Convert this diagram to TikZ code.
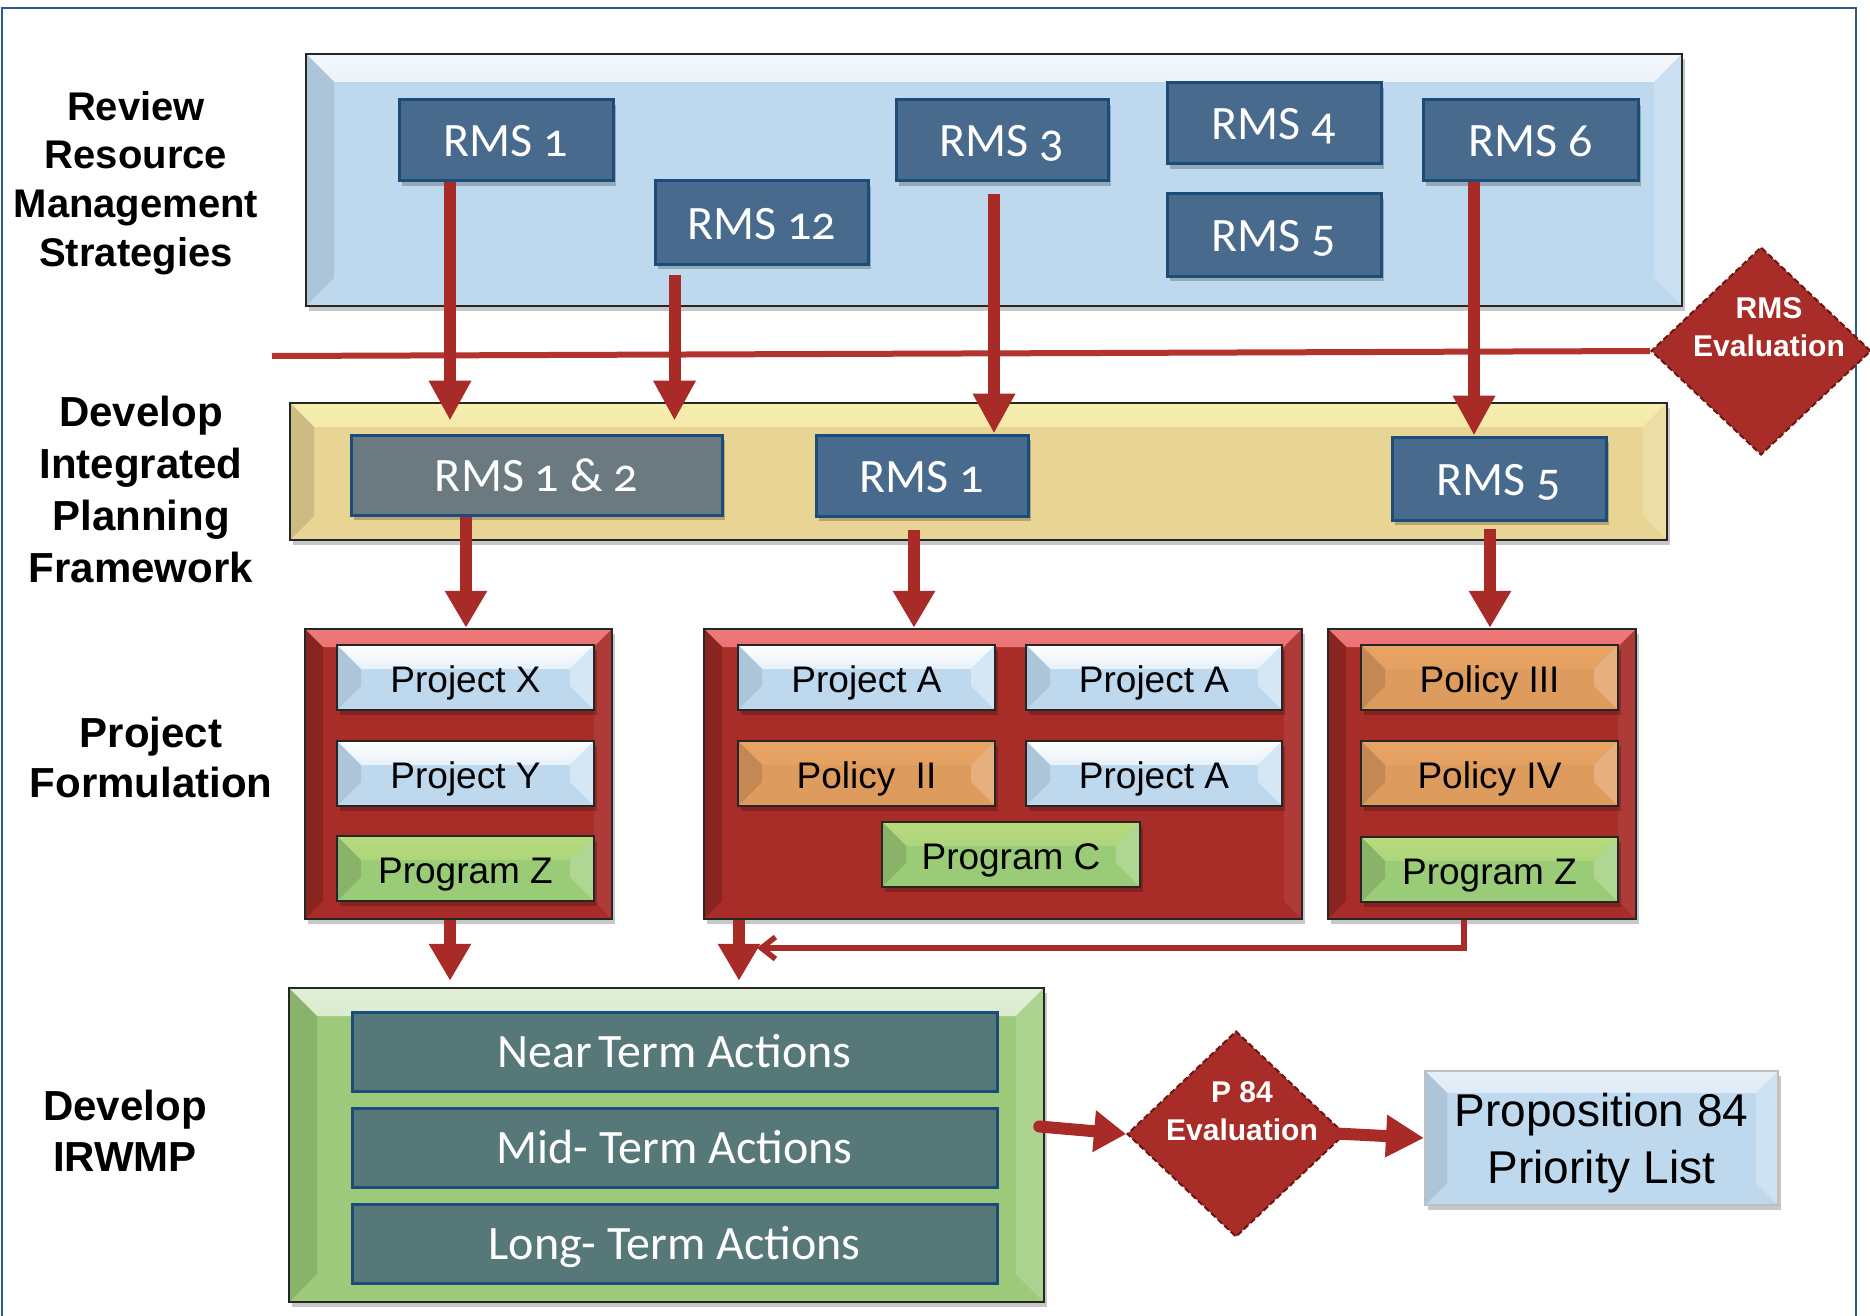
\documentclass[tikz,border=0pt]{standalone}
\usepackage{fontspec}
\setmainfont{Liberation Sans}
\newfontfamily\calfont[Numbers=OldStyle]{Carlito}
\usetikzlibrary{arrows.meta,shapes.geometric,shadows}

\definecolor{framecol}{HTML}{2E5C8A}
\definecolor{arrowred}{HTML}{A82B27}
\definecolor{linered}{HTML}{B3332E}
\definecolor{dkred}{HTML}{6E1512}
\definecolor{rmsfill}{HTML}{486A8D}
\definecolor{rmsedge}{HTML}{1C4D7A}
\definecolor{rmsgray}{HTML}{6A7A80}
\definecolor{actfill}{HTML}{577878}
\definecolor{panelblue}{HTML}{BED9ED}
\definecolor{panelyel}{HTML}{E8D594}
\definecolor{panelred}{HTML}{A82C28}
\definecolor{panelgrn}{HTML}{9CCA7A}
\definecolor{projblue}{HTML}{BED8EE}
\definecolor{polorange}{HTML}{DE9B5E}
\definecolor{proggreen}{HTML}{9ACB76}

\tikzset{
  bevel/.style n args={5}{fill=#2, path picture={
    \path[#3] (path picture bounding box.north west) -- (path picture bounding box.north east)
      -- ([shift={(-#1pt,-#1pt)}]path picture bounding box.north east)
      -- ([shift={(#1pt,-#1pt)}]path picture bounding box.north west) -- cycle;
    \path[#4] (path picture bounding box.north west) -- ([shift={(#1pt,-#1pt)}]path picture bounding box.north west)
      -- ([shift={(#1pt,#1pt)}]path picture bounding box.south west) -- (path picture bounding box.south west) -- cycle;
    \path[#5] (path picture bounding box.north east) -- ([shift={(-#1pt,-#1pt)}]path picture bounding box.north east)
      -- ([shift={(-#1pt,#1pt)}]path picture bounding box.south east) -- (path picture bounding box.south east) -- cycle;
  }},
  shadowed/.style={drop shadow={shadow xshift=3pt,shadow yshift=-5pt,fill=black,opacity=0.22}},
  panel/.style={draw=black!85,line width=2.5pt,inner sep=0pt,shadowed},
  bluepanel/.style={panel,bevel={28}{panelblue}{top color=white!80!panelblue,bottom color=panelblue}{fill=panelblue!85!black!60!panelblue}{fill=white!18!panelblue}},
  yelpanel/.style={panel,bevel={24}{panelyel}{top color=white!75!yellow!60!panelyel,bottom color=panelyel}{fill=panelyel!88!black}{fill=white!18!panelyel}},
  redpanel/.style={panel,bevel={18}{panelred}{top color=red!45!white!80!panelred,bottom color=panelred}{fill=panelred!82!black}{fill=panelred!93!white}},
  grnpanel/.style={panel,bevel={28}{panelgrn}{top color=white!70!panelgrn,bottom color=panelgrn}{fill=panelgrn!88!black}{fill=white!15!panelgrn}},
  rmsbox/.style={draw=rmsedge,line width=3pt,fill=rmsfill,inner sep=0pt,shadowed,text=white,
    font=\calfont\fontsize{48}{52}\selectfont,text height=33pt,text depth=0pt},
  item/.style={draw=black!85,line width=2.5pt,inner sep=0pt,shadowed,text=black,
    font=\fontsize{37}{40}\selectfont,text height=30pt,text depth=0pt},
  projitem/.style={item,bevel={24}{projblue}{top color=white,bottom color=projblue}{fill=projblue!85!black!60!projblue}{fill=white!35!projblue}},
  politem/.style={item,bevel={24}{polorange}{top color=white!45!orange!30!polorange,bottom color=polorange}{fill=polorange!88!black}{fill=white!20!polorange}},
  progitem/.style={item,bevel={24}{proggreen}{top color=white!55!yellow!30!proggreen,bottom color=proggreen}{fill=proggreen!88!black}{fill=white!22!proggreen}},
  actbar/.style={draw=rmsedge,line width=3pt,fill=actfill,inner sep=0pt,text=white,
    font=\calfont\fontsize{48}{52}\selectfont,text height=32.5pt,text depth=0pt},
  propbox/.style={draw=black!25,line width=2pt,inner sep=0pt,shadowed,align=center,
    font=\fontsize{46}{57}\selectfont,text depth=0pt,
    bevel={22}{projblue}{top color=white!60!projblue,bottom color=projblue}{fill=projblue!85!black!60!projblue}{fill=white!25!projblue}},
  evaldiamond/.style={shape=diamond,inner sep=0pt,fill=panelred,draw=dkred,line width=2pt,
    dash pattern=on 6pt off 3pt},
  evaltext/.style={text=white,align=center,font=\bfseries\fontsize{30}{38}\selectfont,text depth=0pt,inner sep=0pt},
  sidelabel/.style={align=center,anchor=north,inner sep=0pt,text=black},
  bigarrow/.style={draw=arrowred,line width=12pt,-{Triangle[length=40pt,width=40pt]}},
  midarrow/.style={draw=arrowred,line width=12pt,-{Triangle[length=37pt,width=40pt]}},
  thinarrow/.style={draw=arrowred,line width=5.5pt,-{Straight Barb[length=14pt,width=22pt]}},
  evalline/.style={draw=linered,line width=6pt},
}

\newcommand\placebox[7]{%
  \pgfmathsetmacro\bxw{#4-#2}\pgfmathsetmacro\bxh{#5-#3}%
  \node[#6,minimum width=\bxw pt,minimum height=\bxh pt] (#1) at ({(#2+#4)/2},{(#3+#5)/2}) {#7};}

\begin{document}
\begin{tikzpicture}[x=1pt,y=-1pt]
\useasboundingbox[fill=white] (0,0) rectangle (1870,1316);
\draw[framecol,line width=2pt] (2,8) rectangle (1856,1330);

% side labels
\node[sidelabel,font=\bfseries\fontsize{40}{48.8}\selectfont] (lRev) at (136,91) {Review\\Resource\\Management\\Strategies};
\node[sidelabel,font=\bfseries\fontsize{42}{52}\selectfont] (lDev) at (141,396) {Develop\\Integrated\\Planning\\Framework};
\node[sidelabel,font=\bfseries\fontsize{42}{50}\selectfont] (lProj) at (151,717) {Project\\Formulation};
\node[sidelabel,font=\bfseries\fontsize{42}{51}\selectfont] (lIrw) at (125,1090) {Develop\\IRWMP};

% panels
\placebox{pTop}{306}{54}{1682}{306}{bluepanel}{}
\placebox{pMid}{290}{403}{1667}{540}{yelpanel}{}
\placebox{pRa}{305}{629}{612}{919}{redpanel}{}
\placebox{pRb}{704}{629}{1302}{919}{redpanel}{}
\placebox{pRc}{1328}{629}{1636}{919}{redpanel}{}
\placebox{pGrn}{289}{988}{1044}{1302}{grnpanel}{}

% RMS boxes
\placebox{rmsA}{399}{100}{613}{181}{rmsbox}{RMS 1}
\placebox{rmsB}{655}{181}{868}{264}{rmsbox}{RMS 12}
\placebox{rmsC}{896}{100}{1108}{181}{rmsbox}{RMS 3}
\placebox{rmsD}{1167}{83}{1381}{164}{rmsbox}{RMS 4}
\placebox{rmsE}{1167}{194}{1381}{276}{rmsbox}{RMS 5}
\placebox{rmsF}{1423}{100}{1638}{181}{rmsbox}{RMS 6}
\placebox{rmsG}{351}{435}{722}{515}{rmsbox,fill=rmsgray}{RMS 1 \& 2}
\placebox{rmsH}{816}{435}{1028}{516}{rmsbox}{RMS 1}
\placebox{rmsI}{1392}{437}{1606}{520}{rmsbox}{RMS 5}

% project items
\placebox{projX}{337}{645}{594}{710}{projitem}{Project X}
\placebox{projY}{337}{741}{594}{806}{projitem}{Project Y}
\placebox{progZa}{337}{836}{594}{901}{progitem}{Program Z}
\placebox{projAa}{738}{645}{995}{710}{projitem}{Project A}
\placebox{projAb}{1026}{645}{1282}{710}{projitem}{Project A}
\placebox{polII}{738}{741}{995}{806}{politem}{Policy\hspace{0.55em}II}
\placebox{projAc}{1026}{741}{1282}{806}{projitem}{Project A}
\placebox{progC}{882}{822}{1140}{887}{progitem}{Program C}
\placebox{polIII}{1361}{645}{1618}{710}{politem}{Policy III}
\placebox{polIV}{1361}{741}{1618}{806}{politem}{Policy IV}
\placebox{progZb}{1361}{837}{1618}{902}{progitem}{Program Z}

% action bars
\placebox{actN}{352}{1012}{997}{1091}{actbar}{Near\hspace{0.12em}Term Actions}
\placebox{actM}{352}{1108}{997}{1187}{actbar}{Mid- Term Actions}
\placebox{actL}{352}{1204}{997}{1283}{actbar}{Long- Term Actions}

% proposition box
\placebox{prop}{1425}{1071}{1778}{1205}{propbox}{Proposition 84\\Priority List}

% evaluation line and diamonds
\coordinate (evStart) at (272,356);
\node[evaldiamond,minimum width=220pt,minimum height=208pt] (rmsEval) at (1761,351) {};
\draw[evalline] (evStart) -- (rmsEval.west);
\node[evaltext] (rmsEvalT) at (1769,327.5) {RMS\\Evaluation};
\node[evaldiamond,minimum width=218pt,minimum height=206pt] (pEval) at (1236,1134) {};
\node[evaltext] (pEvalT) at (1242,1111.5) {P 84\\Evaluation};

% arrow columns
\coordinate (xa) at (450,0);
\coordinate (xb) at (674.5,0);
\coordinate (xc) at (994,0);
\coordinate (xd) at (1474,0);
\coordinate (xe) at (466,0);
\coordinate (xf) at (914,0);
\coordinate (xg) at (1490,0);
\coordinate (xh) at (450,0);
\coordinate (xi) at (739,0);
\coordinate (xj) at (1464,0);
\coordinate (joinPt) at (757,948);

\draw[bigarrow,shorten >=13pt] (rmsA.south -| xa) -- (rmsG.north -| xa);
\draw[bigarrow,shorten <=9pt,shorten >=13pt] (rmsB.south -| xb) -- (rmsG.north -| xb);
\draw[bigarrow,shorten <=12pt] (rmsC.south -| xc) -- (rmsH.north -| xc);
\draw[bigarrow] (rmsF.south -| xd) -- (rmsI.north -| xd);

\draw[midarrow] (rmsG.south -| xe) -- (pRa.north -| xe);
\draw[midarrow,shorten <=12pt] (rmsH.south -| xf) -- (pRb.north -| xf);
\draw[midarrow,shorten <=7pt] (rmsI.south -| xg) -- (pRc.north -| xg);

\draw[thinarrow] (pRc.south -| xj) |- (joinPt);
\draw[midarrow,shorten >=6pt] (pRa.south -| xh) -- (pGrn.north -| xh);
\draw[midarrow,shorten >=6pt] (pRb.south -| xi) -- (pGrn.north -| xi);

\draw[draw=arrowred,line width=12pt,line cap=round,-{Triangle[length=32pt,width=40pt]},shorten <=-6pt] ([yshift=18pt]pGrn.east) -- (pEval.west);
\draw[draw=arrowred,line width=12pt,-{Triangle[length=38pt,width=40pt]},shorten <=-14pt] (pEval.east) -- (prop.west);
\end{tikzpicture}
\end{document}
